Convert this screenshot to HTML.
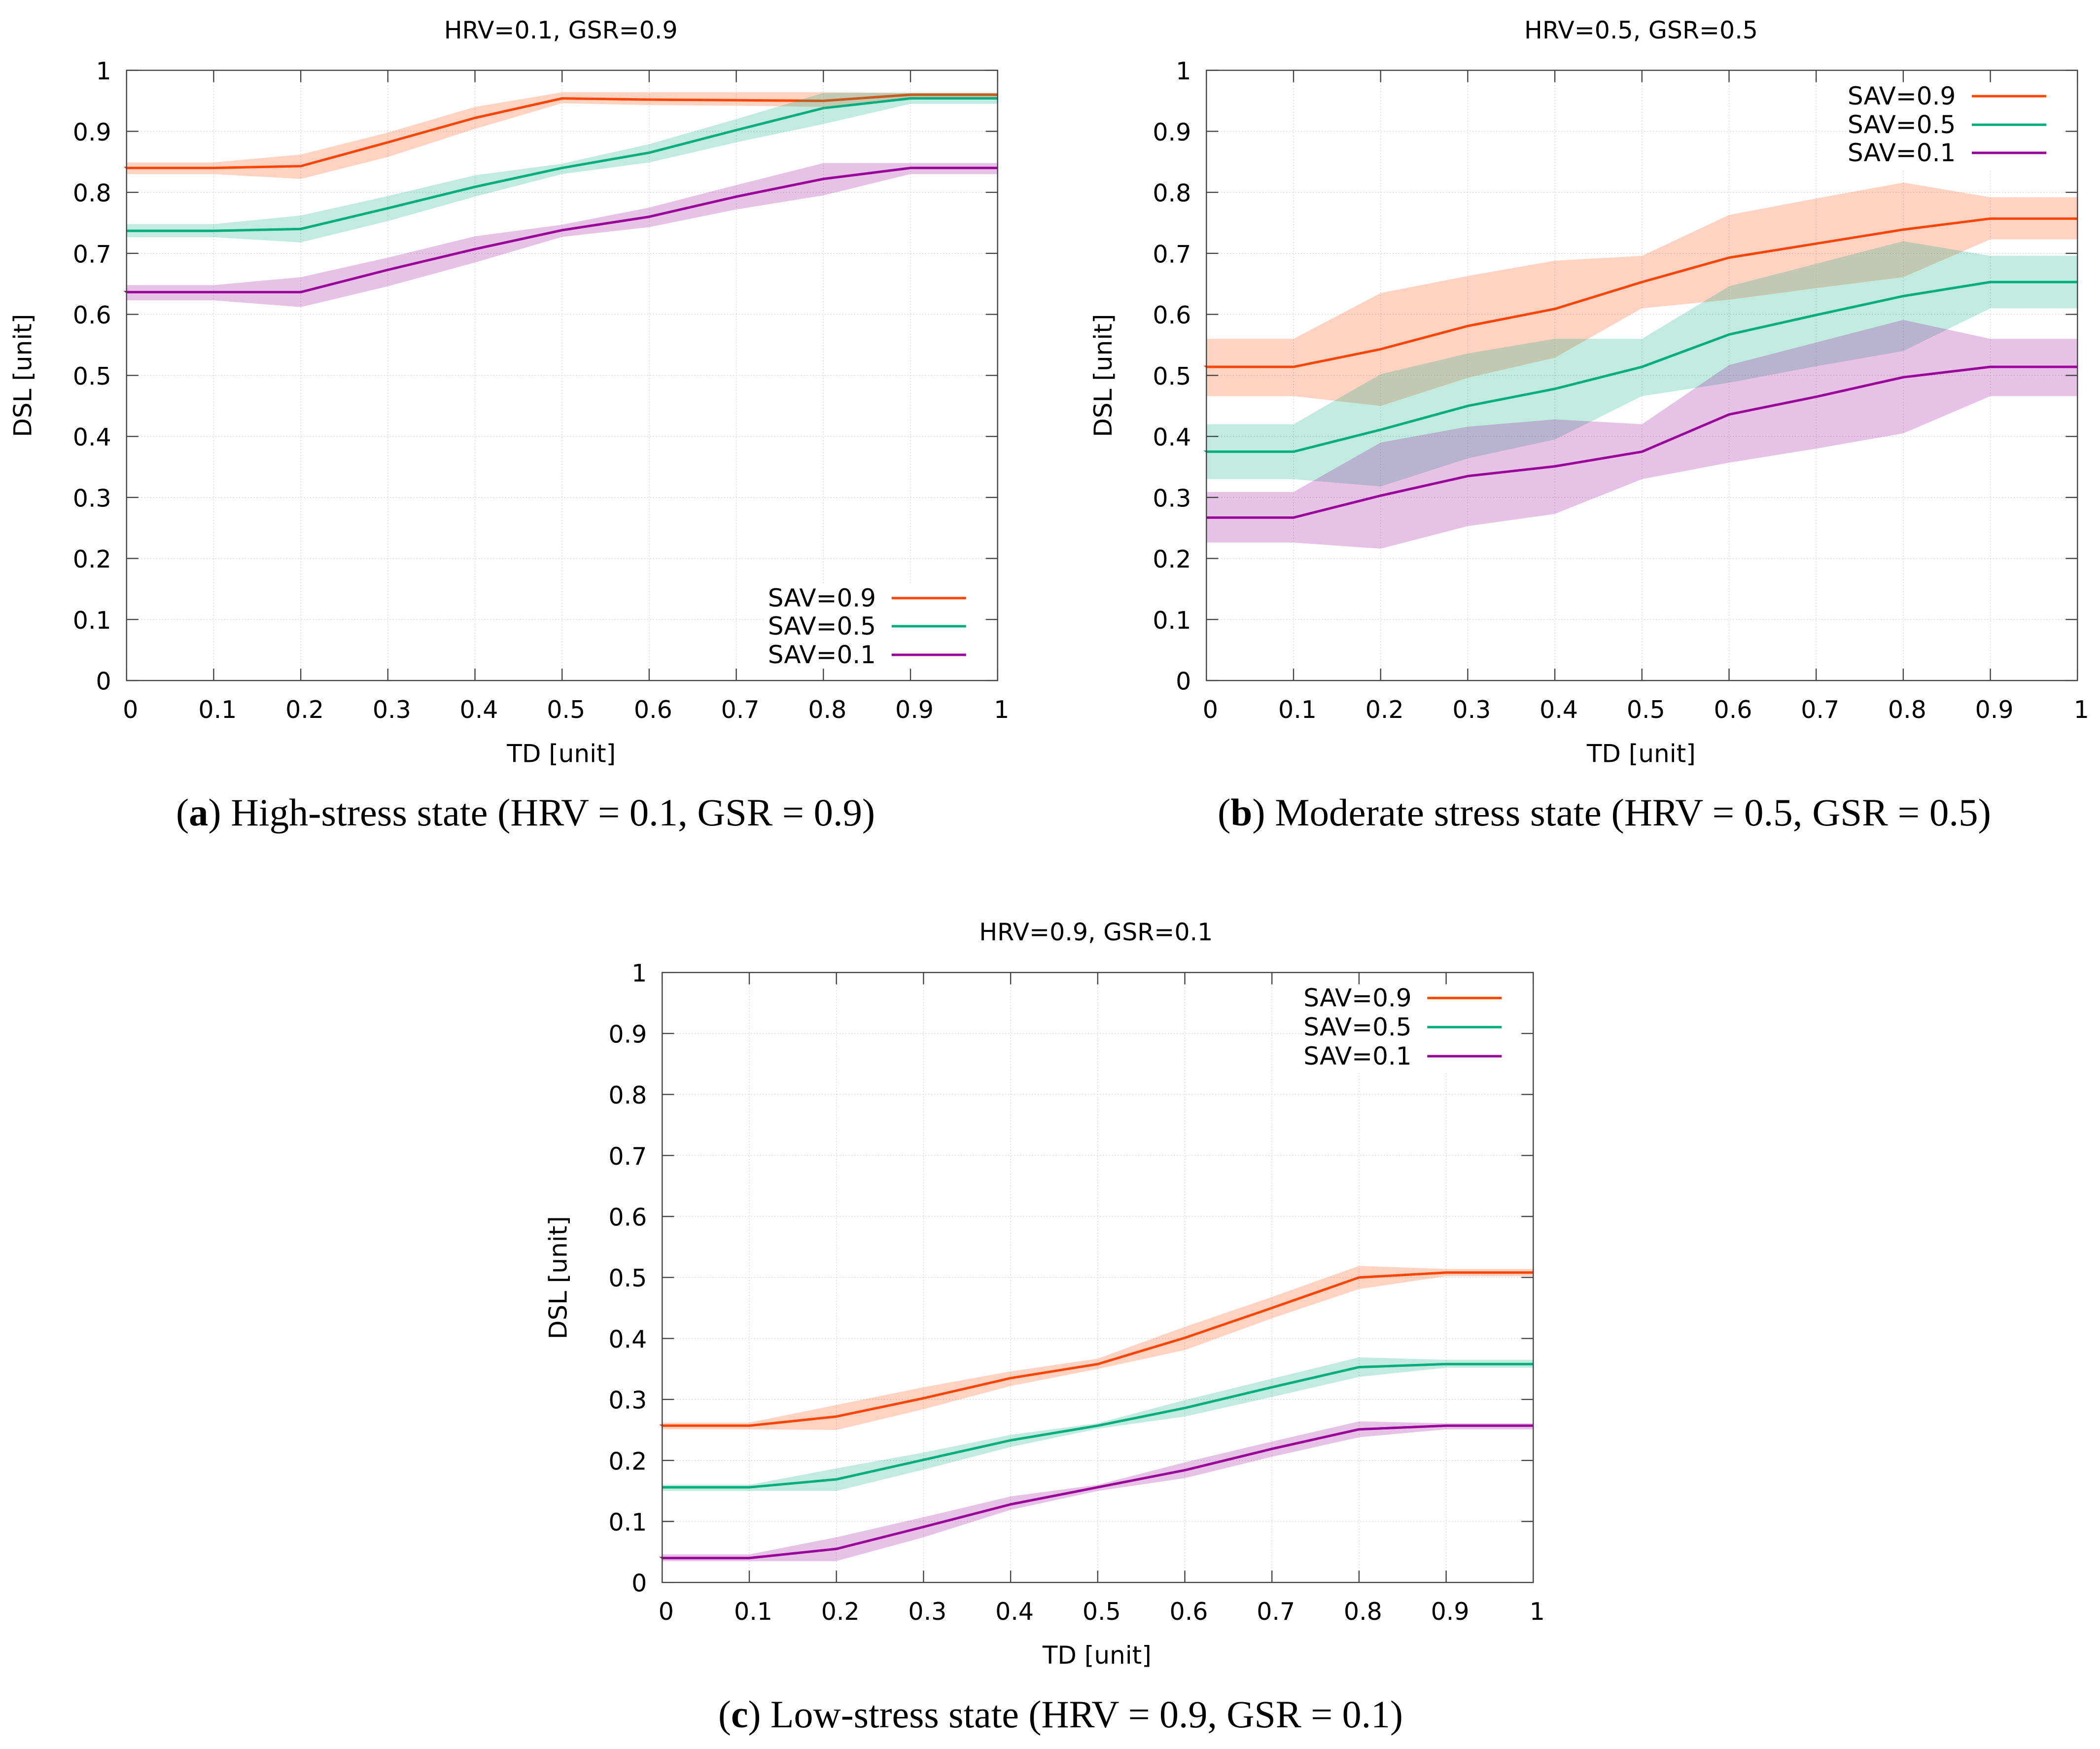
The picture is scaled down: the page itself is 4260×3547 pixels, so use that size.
<!DOCTYPE html>
<html lang="en">
<head>
<meta charset="utf-8">
<title>DSL vs TD under three stress states</title>
<style>
html,body{margin:0;padding:0;background:#fff;}
svg{display:block;}
.lab{font-family:"DejaVu Sans","Liberation Sans",sans-serif;font-size:49px;fill:#000;}
.big{font-size:50px;}
.cap{font-family:"Liberation Serif",serif;font-size:78px;fill:#000;}
</style>
</head>
<body>
<svg xmlns="http://www.w3.org/2000/svg" width="4260" height="3547" viewBox="0 0 4260 3547">
<rect x="0" y="0" width="4260" height="3547" fill="#fff"/>

<g id="panel-a" transform="translate(256.7,142.6)">
  <g class="grid"></g>
  <g class="series"></g>
  <rect x="1296" y="1041" width="440" height="173" fill="#fff"/>
  <g class="axes"></g>
  <text class="lab" x="881" y="-64.6" text-anchor="middle">HRV=0.1, GSR=0.9</text>
  <text class="lab big" x="882" y="1403" text-anchor="middle">TD [unit]</text>
  <text class="lab big" transform="translate(-193,619) rotate(-90)" text-anchor="middle">DSL [unit]</text>
  <g>
    <text class="lab big" x="1301" y="1087.4">SAV=0.9</text>
    <line x1="1552" x2="1703" y1="1070.4" y2="1070.4" stroke="#ff4500" stroke-width="5"/>
    <text class="lab big" x="1301" y="1144.4">SAV=0.5</text>
    <line x1="1552" x2="1703" y1="1127.4" y2="1127.4" stroke="#00ad7c" stroke-width="5"/>
    <text class="lab big" x="1301" y="1202.4">SAV=0.1</text>
    <line x1="1552" x2="1703" y1="1185.4" y2="1185.4" stroke="#990099" stroke-width="5"/>
  </g>
</g>

<g id="panel-b" transform="translate(2447.3,142.6)">
  <g class="grid"></g>
  <g class="series"></g>
  <rect x="1298" y="24" width="438" height="176" fill="#fff"/>
  <g class="axes"></g>
  <text class="lab" x="881.7" y="-64.6" text-anchor="middle">HRV=0.5, GSR=0.5</text>
  <text class="lab big" x="882" y="1403" text-anchor="middle">TD [unit]</text>
  <text class="lab big" transform="translate(-192.3,619) rotate(-90)" text-anchor="middle">DSL [unit]</text>
  <g>
    <text class="lab big" x="1300.7" y="69.4">SAV=0.9</text>
    <line x1="1552.7" x2="1703.7" y1="52.4" y2="52.4" stroke="#ff4500" stroke-width="5"/>
    <text class="lab big" x="1300.7" y="127.4">SAV=0.5</text>
    <line x1="1552.7" x2="1703.7" y1="110.4" y2="110.4" stroke="#00ad7c" stroke-width="5"/>
    <text class="lab big" x="1300.7" y="184.4">SAV=0.1</text>
    <line x1="1552.7" x2="1703.7" y1="167.4" y2="167.4" stroke="#990099" stroke-width="5"/>
  </g>
</g>

<g id="panel-c" transform="translate(1343.3,1972.2)">
  <g class="grid"></g>
  <g class="series"></g>
  <rect x="1298" y="24" width="438" height="176" fill="#fff"/>
  <g class="axes"></g>
  <text class="lab" x="880" y="-65.2" text-anchor="middle">HRV=0.9, GSR=0.1</text>
  <text class="lab big" x="882" y="1402" text-anchor="middle">TD [unit]</text>
  <text class="lab big" transform="translate(-194,619) rotate(-90)" text-anchor="middle">DSL [unit]</text>
  <g>
    <text class="lab big" x="1301" y="68.8">SAV=0.9</text>
    <line x1="1552" x2="1703" y1="51.8" y2="51.8" stroke="#ff4500" stroke-width="5"/>
    <text class="lab big" x="1301" y="127.8">SAV=0.5</text>
    <line x1="1552" x2="1703" y1="110.8" y2="110.8" stroke="#00ad7c" stroke-width="5"/>
    <text class="lab big" x="1301" y="186.8">SAV=0.1</text>
    <line x1="1552" x2="1703" y1="169.8" y2="169.8" stroke="#990099" stroke-width="5"/>
  </g>
</g>

<text class="cap" x="357" y="1674" textLength="1418" lengthAdjust="spacingAndGlyphs">(<tspan font-weight="bold">a</tspan>) High-stress state (HRV = 0.1, GSR = 0.9)</text>
<text class="cap" x="2470" y="1674" textLength="1569" lengthAdjust="spacingAndGlyphs">(<tspan font-weight="bold">b</tspan>) Moderate stress state (HRV = 0.5, GSR = 0.5)</text>
<text class="cap" x="1457" y="3503" textLength="1389" lengthAdjust="spacingAndGlyphs">(<tspan font-weight="bold">c</tspan>) Low-stress state (HRV = 0.9, GSR = 0.1)</text>
</svg>

<script>
// Shared axis data
const xTickValues = [0, 0.1, 0.2, 0.3, 0.4, 0.5, 0.6, 0.7, 0.8, 0.9, 1];
const xTickLabels = ['0', '0.1', '0.2', '0.3', '0.4', '0.5', '0.6', '0.7', '0.8', '0.9', '1'];
const yTickValues = [0, 0.1, 0.2, 0.3, 0.4, 0.5, 0.6, 0.7, 0.8, 0.9, 1];
const yTickLabels = ['0', '0.1', '0.2', '0.3', '0.4', '0.5', '0.6', '0.7', '0.8', '0.9', '1'];
const tdValues = [0, 0.1, 0.2, 0.3, 0.4, 0.5, 0.6, 0.7, 0.8, 0.9, 1];

// Panel a: HRV=0.1, GSR=0.9
const aSav09Mean  = [0.840, 0.840, 0.843, 0.882, 0.922, 0.954, 0.952, 0.951, 0.950, 0.960, 0.960];
const aSav09Upper = [0.849, 0.849, 0.862, 0.898, 0.940, 0.964, 0.964, 0.964, 0.964, 0.963, 0.963];
const aSav09Lower = [0.830, 0.830, 0.822, 0.858, 0.904, 0.946, 0.943, 0.942, 0.940, 0.956, 0.956];
const aSav05Mean  = [0.737, 0.737, 0.740, 0.774, 0.809, 0.840, 0.865, 0.902, 0.938, 0.954, 0.954];
const aSav05Upper = [0.748, 0.748, 0.762, 0.794, 0.828, 0.847, 0.879, 0.920, 0.963, 0.963, 0.963];
const aSav05Lower = [0.7265, 0.7265, 0.718, 0.753, 0.793, 0.830, 0.849, 0.882, 0.912, 0.945, 0.945];
const aSav01Mean  = [0.6365, 0.6365, 0.6365, 0.673, 0.707, 0.738, 0.760, 0.793, 0.822, 0.840, 0.840];
const aSav01Upper = [0.648, 0.648, 0.661, 0.693, 0.728, 0.747, 0.775, 0.812, 0.848, 0.848, 0.848];
const aSav01Lower = [0.623, 0.623, 0.612, 0.646, 0.685, 0.727, 0.743, 0.772, 0.795, 0.830, 0.830];

// Panel b: HRV=0.5, GSR=0.5
const bSav09Mean  = [0.514, 0.514, 0.543, 0.581, 0.609, 0.653, 0.693, 0.716, 0.739, 0.757, 0.757];
const bSav09Upper = [0.560, 0.560, 0.635, 0.663, 0.688, 0.696, 0.763, 0.790, 0.816, 0.792, 0.792];
const bSav09Lower = [0.466, 0.466, 0.450, 0.496, 0.529, 0.610, 0.624, 0.643, 0.661, 0.723, 0.723];
const bSav05Mean  = [0.375, 0.375, 0.411, 0.450, 0.478, 0.514, 0.567, 0.599, 0.630, 0.653, 0.653];
const bSav05Upper = [0.420, 0.420, 0.502, 0.536, 0.560, 0.560, 0.646, 0.683, 0.720, 0.696, 0.696];
const bSav05Lower = [0.330, 0.330, 0.318, 0.364, 0.395, 0.466, 0.488, 0.515, 0.540, 0.610, 0.610];
const bSav01Mean  = [0.267, 0.267, 0.303, 0.335, 0.351, 0.375, 0.436, 0.465, 0.497, 0.514, 0.514];
const bSav01Upper = [0.309, 0.309, 0.390, 0.416, 0.428, 0.420, 0.517, 0.554, 0.591, 0.560, 0.560];
const bSav01Lower = [0.226, 0.226, 0.216, 0.253, 0.273, 0.330, 0.357, 0.380, 0.405, 0.466, 0.466];

// Panel c: HRV=0.9, GSR=0.1
const cSav09Mean  = [0.257, 0.257, 0.272, 0.302, 0.335, 0.358, 0.401, 0.450, 0.500, 0.508, 0.508];
const cSav09Upper = [0.262, 0.262, 0.291, 0.320, 0.346, 0.367, 0.419, 0.468, 0.519, 0.514, 0.514];
const cSav09Lower = [0.251, 0.251, 0.250, 0.284, 0.322, 0.350, 0.381, 0.433, 0.481, 0.502, 0.502];
const cSav05Mean  = [0.156, 0.156, 0.169, 0.201, 0.233, 0.257, 0.286, 0.320, 0.353, 0.358, 0.358];
const cSav05Upper = [0.160, 0.160, 0.187, 0.213, 0.242, 0.261, 0.299, 0.334, 0.369, 0.365, 0.365];
const cSav05Lower = [0.150, 0.150, 0.150, 0.185, 0.222, 0.252, 0.272, 0.304, 0.337, 0.352, 0.352];
const cSav01Mean  = [0.040, 0.040, 0.055, 0.091, 0.128, 0.156, 0.184, 0.219, 0.251, 0.257, 0.257];
const cSav01Upper = [0.046, 0.046, 0.074, 0.107, 0.141, 0.160, 0.197, 0.231, 0.264, 0.261, 0.261];
const cSav01Lower = [0.035, 0.035, 0.035, 0.074, 0.119, 0.150, 0.171, 0.206, 0.238, 0.251, 0.251];

const SVG_NS = 'http://www.w3.org/2000/svg';
const ORANGE = '#ff4500';
const GREEN = '#00ad7c';
const PURPLE = '#990099';

const panels = [
  { id: 'a', w: 1767, h: 1237.5, nubs: [true, false, true],
    series: [
      { key: 'sav-0-9', color: ORANGE, mean: aSav09Mean, upper: aSav09Upper, lower: aSav09Lower },
      { key: 'sav-0-5', color: GREEN, mean: aSav05Mean, upper: aSav05Upper, lower: aSav05Lower },
      { key: 'sav-0-1', color: PURPLE, mean: aSav01Mean, upper: aSav01Upper, lower: aSav01Lower }
    ] },
  { id: 'b', w: 1767, h: 1237.5, nubs: [true, true, false],
    series: [
      { key: 'sav-0-9', color: ORANGE, mean: bSav09Mean, upper: bSav09Upper, lower: bSav09Lower },
      { key: 'sav-0-5', color: GREEN, mean: bSav05Mean, upper: bSav05Upper, lower: bSav05Lower },
      { key: 'sav-0-1', color: PURPLE, mean: bSav01Mean, upper: bSav01Upper, lower: bSav01Lower }
    ] },
  { id: 'c', w: 1767, h: 1237, nubs: [true, false, true],
    series: [
      { key: 'sav-0-9', color: ORANGE, mean: cSav09Mean, upper: cSav09Upper, lower: cSav09Lower },
      { key: 'sav-0-5', color: GREEN, mean: cSav05Mean, upper: cSav05Upper, lower: cSav05Lower },
      { key: 'sav-0-1', color: PURPLE, mean: cSav01Mean, upper: cSav01Upper, lower: cSav01Lower }
    ] }
];

function make(tag, attrs, parent) {
  const el = document.createElementNS(SVG_NS, tag);
  Object.keys(attrs).forEach(function (k) { el.setAttribute(k, attrs[k]); });
  parent.appendChild(el);
  return el;
}

function drawPanel(p) {
  const root = document.getElementById('panel-' + p.id);
  const grid = root.querySelector('.grid');
  const seriesG = root.querySelector('.series');
  const axes = root.querySelector('.axes');
  const xScale = function (v) { return v * p.w; };
  const yScale = function (v) { return p.h * (1 - v); };
  const tickLen = 24;

  // grid lines
  xTickValues.forEach(function (v) {
    if (v === 0 || v === 1) return;
    const gl = make('line', { x1: xScale(v), x2: xScale(v), y1: 0, y2: p.h, stroke: '#d4d4d4', 'stroke-width': 1.6, 'stroke-dasharray': '2 4' }, grid);
    
    
  });
  yTickValues.forEach(function (v) {
    if (v === 0 || v === 1) return;
    const gl = make('line', { x1: 0, x2: p.w, y1: yScale(v), y2: yScale(v), stroke: '#d4d4d4', 'stroke-width': 1.6, 'stroke-dasharray': '2 4' }, grid);
    
    
  });

  // series: band then line, in order, so later bands tint earlier lines
  p.series.forEach(function (s, idx) {
    const top = s.upper.map(function (v, i) { return xScale(tdValues[i]) + ',' + yScale(v); });
    const bot = s.lower.map(function (v, i) { return xScale(tdValues[i]) + ',' + yScale(v); }).reverse();
    const band = make('polygon', { points: top.concat(bot).join(' '), fill: s.color, 'fill-opacity': 0.24 }, seriesG);
    
    

    const pts = s.mean.map(function (v, i) { return xScale(tdValues[i]) + ',' + yScale(v); });
    const line = make('polyline', { points: pts.join(' '), fill: 'none', stroke: s.color, 'stroke-width': 5, 'stroke-linejoin': 'round' }, seriesG);
    
    

    if (p.nubs[idx]) {
      const y0 = yScale(s.mean[0]);
      const nub = make('polygon', { points: (-6) + ',' + (y0 - 2.5) + ' 0,' + (y0 - 2.5) + ' 0,' + (y0 + 2.5), fill: s.color }, seriesG);
      
      
    }
  });

  // frame
  const frame = make('rect', { x: 0, y: 0, width: p.w, height: p.h, fill: 'none', stroke: '#444', 'stroke-width': 2.4 }, axes);
  
  

  // x ticks + labels
  xTickValues.forEach(function (v, i) {
    const x = xScale(v);
    const t1 = make('line', { x1: x, x2: x, y1: p.h, y2: p.h - tickLen, stroke: '#444', 'stroke-width': 2.4 }, axes);
    
    
    const t2 = make('line', { x1: x, x2: x, y1: 0, y2: tickLen, stroke: '#444', 'stroke-width': 2.4 }, axes);
    
    
    const lab = make('text', { x: x + 8, y: p.h + 76, 'text-anchor': 'middle', class: 'lab' }, axes);
    lab.textContent = xTickLabels[i];
    
    
  });

  // y ticks + labels
  yTickValues.forEach(function (v, i) {
    const y = yScale(v);
    const t1 = make('line', { x1: 0, x2: tickLen, y1: y, y2: y, stroke: '#444', 'stroke-width': 2.4 }, axes);
    
    
    const t2 = make('line', { x1: p.w, x2: p.w - tickLen, y1: y, y2: y, stroke: '#444', 'stroke-width': 2.4 }, axes);
    
    
    const lab = make('text', { x: -31, y: y + 18.5, 'text-anchor': 'end', class: 'lab' }, axes);
    lab.textContent = yTickLabels[i];
    
    
  });
}

panels.forEach(drawPanel);
</script>
</body>
</html>
